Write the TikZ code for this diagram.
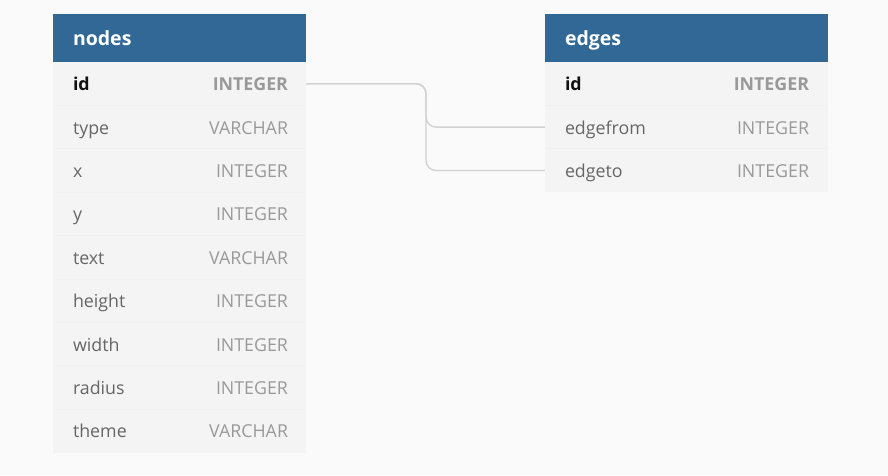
\documentclass[tikz,border=0pt]{standalone}
\usepackage{fontspec}
\setmainfont{Open Sans}
\usetikzlibrary{calc}
\definecolor{bg}{HTML}{FAFAFA}
\definecolor{hdr}{HTML}{316896}
\definecolor{tbl}{HTML}{F4F4F4}
\definecolor{sep}{HTML}{F1F1F1}
\definecolor{fname}{HTML}{666666}
\definecolor{ftype}{HTML}{999999}
\definecolor{pk}{HTML}{111111}
\definecolor{conn}{HTML}{D2D2D2}
\tikzset{
  hdrbox/.style={rectangle, fill=hdr, inner sep=0, minimum height=48pt},
  rowbox/.style={rectangle, fill=tbl, inner sep=0, minimum height=43.4pt},
  htext/.style={anchor=west, inner sep=0, text=white, font=\fontsize{19.5}{19.5}\selectfont\bfseries, text height=14pt, text depth=0pt},
  ntext/.style={anchor=west, inner sep=0, text=fname, font=\fontsize{17.8}{17.8}\selectfont, text height=14pt, text depth=0pt},
  ttext/.style={anchor=east, inner sep=0, text=ftype, font=\fontsize{17.8}{17.8}\selectfont, text height=14pt, text depth=0pt},
  pkname/.style={ntext, text=pk, font=\fontsize{17.8}{17.8}\selectfont\bfseries},
  pktype/.style={ttext, font=\fontsize{17.8}{17.8}\selectfont\bfseries},
  link/.style={draw=conn, line width=1.4pt, rounded corners=10pt}
}
\begin{document}
\begin{tikzpicture}[x=1pt,y=-1pt]
\fill[bg] (0,0) rectangle (888,475);
\useasboundingbox (0,0) rectangle (888,475);
% nodes table
\node[hdrbox, minimum width=253pt] (nh) at (179.5,38) {};
\node[htext] (nht) at ($(nh.west)+(20,0)$) {nodes};
\foreach \n/\nm/\ty [count=\i from 0] in {nid/id/INTEGER, ntype/type/VARCHAR, nx/x/INTEGER, ny/y/INTEGER, ntext/text/VARCHAR, nheight/height/INTEGER, nwidth/width/INTEGER, nradius/radius/INTEGER, ntheme/theme/VARCHAR}{
  \node[rowbox, minimum width=253pt] (\n) at (179.5,{62+43.4*(\i+0.5)}) {};
  \ifnum\i=0
    \node[pkname] (\n-l) at ($(\n.west)+(20,0)$) {\nm};
    \node[pktype] (\n-r) at ($(\n.east)+(-18,0)$) {\ty};
  \else
    \draw[sep, line width=0.6pt] (\n.north west) -- (\n.north east);
    \node[ntext] (\n-l) at ($(\n.west)+(20,0)$) {\nm};
    \node[ttext] (\n-r) at ($(\n.east)+(-18,0)$) {\ty};
  \fi
}
% edges table
\node[hdrbox, minimum width=283pt] (eh) at (686.5,38) {};
\node[htext] (eht) at ($(eh.west)+(20,0)$) {edges};
\foreach \n/\nm/\ty [count=\i from 0] in {eid/id/INTEGER, efrom/edgefrom/INTEGER, eto/edgeto/INTEGER}{
  \node[rowbox, minimum width=283pt] (\n) at (686.5,{62+43.4*(\i+0.5)}) {};
  \ifnum\i=0
    \node[pkname] (\n-l) at ($(\n.west)+(20,0)$) {\nm};
    \node[pktype] (\n-r) at ($(\n.east)+(-19,0)$) {\ty};
  \else
    \draw[sep, line width=0.6pt] (\n.north west) -- (\n.north east);
    \node[ntext] (\n-l) at ($(\n.west)+(20,0)$) {\nm};
    \node[ttext] (\n-r) at ($(\n.east)+(-19,0)$) {\ty};
  \fi
}
% connectors
\coordinate (jx) at (426,0);
\draw[link] (nid.east) -| (jx |- efrom.west) -- (efrom.west);
\draw[link] (nid.east) -| (jx |- eto.west) -- (eto.west);
\end{tikzpicture}
\end{document}
